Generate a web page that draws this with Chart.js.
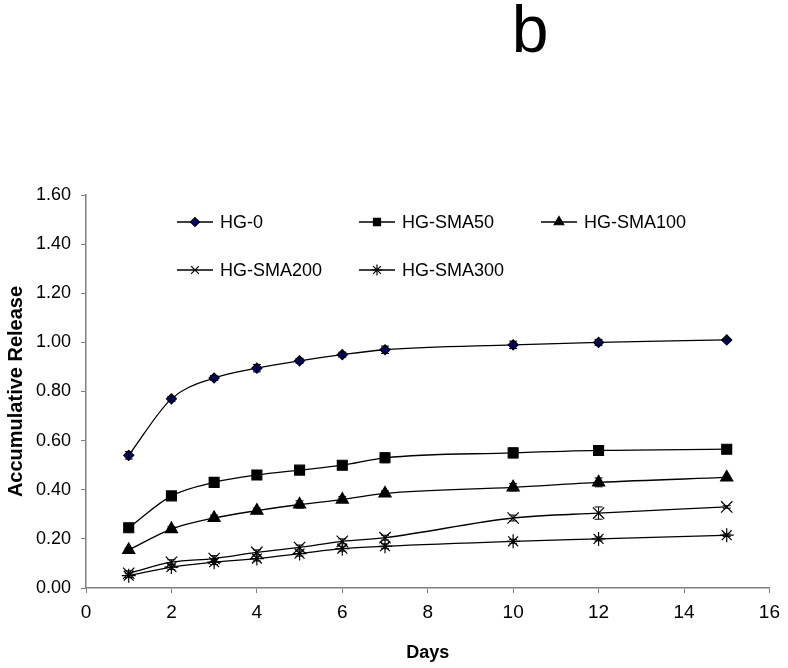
<!DOCTYPE html>
<html>
<head>
<meta charset="utf-8">
<script src="https://cdn.jsdelivr.net/npm/chart.js@4.4.1/dist/chart.umd.min.js"></script>
<style>
  html, body { margin: 0; padding: 0; background: #fff; }
  #wrap { width: 788px; height: 668px; }
</style>
</head>
<body>
<div id="wrap"><canvas id="myChart" width="788" height="668"></canvas></div>
<script>
// ---- data ----
const days = [1, 2, 3, 4, 5, 6, 7, 10, 12, 15];

const hg0      = [0.54, 0.77, 0.855, 0.895, 0.925, 0.95, 0.97, 0.99, 1.00, 1.01];
const hgSma50  = [0.245, 0.375, 0.43, 0.46, 0.48, 0.50, 0.53, 0.55, 0.56, 0.565];
const hgSma100 = [0.155, 0.24, 0.285, 0.315, 0.34, 0.36, 0.385, 0.41, 0.43, 0.45];
const hgSma200 = [0.06, 0.105, 0.12, 0.145, 0.165, 0.19, 0.205, 0.285, 0.305, 0.33];
const hgSma300 = [0.05, 0.085, 0.105, 0.12, 0.14, 0.16, 0.17, 0.19, 0.20, 0.215];

// error bars (+/-)
const err0   = [0.015, 0.01, 0.01, 0.015, 0.01, 0.01, 0.015, 0.015, 0.012, 0.005];
const err50  = [0.01, 0.008, 0.01, 0.008, 0.01, 0.01, 0.02, 0.02, 0.02, 0.005];
const err100 = [0.008, 0.01, 0.012, 0.01, 0.015, 0.012, 0.01, 0.015, 0.018, 0.005];
const err200 = [0.01, 0.01, 0.012, 0.01, 0.01, 0.01, 0.01, 0.012, 0.025, 0.005];
const err300 = [0.008, 0.01, 0.01, 0.01, 0.01, 0.01, 0.01, 0.008, 0.008, 0.005];

const xTicks = [0, 2, 4, 6, 8, 10, 12, 14, 16];
const yTicks = [0, 0.2, 0.4, 0.6, 0.8, 1.0, 1.2, 1.4, 1.6];

// ---- chart geometry ----
const AREA = { left: 86, right: 771, top: 195, bottom: 588 };
const FONT = '"Liberation Sans", Arial, sans-serif';

function pts(vals) {
    return days.map((d, i) => ({ x: d, y: vals[i] }));
}

function makeSet(label, vals, errs, style, fill, size, legendSize) {
    return {
        label: label,
        data: pts(vals),
        errs: errs,
        legendSize: legendSize,
        borderColor: '#000',
        borderWidth: 1.3,
        backgroundColor: fill,
        pointStyle: style,
        pointRadius: size,
        pointBorderColor: '#000',
        pointBackgroundColor: fill,
        pointBorderWidth: 1.2,
        tension: 0.35,
        cubicInterpolationMode: 'monotone'
    };
}

const datasets = [
    makeSet('HG-0', hg0, err0, 'rectRot', '#000080', 5, 4.5),
    makeSet('HG-SMA50', hgSma50, err50, 'rect', '#000', 7, 5),
    makeSet('HG-SMA100', hgSma100, err100, 'triangle', '#000', 7, 5.5),
    makeSet('HG-SMA200', hgSma200, err200, 'crossRot', '#000', 8, 5.5),
    makeSet('HG-SMA300', hgSma300, err300, 'star', '#000', 7, 5.5)
];

// legend slot positions (row, col)
const legendSlots = [[0, 0], [0, 1], [0, 2], [1, 0], [1, 1]];

// error bars drawn from scales
const errorBarPlugin = {
    id: 'errorBars',
    afterDatasetsDraw(chart) {
        const ctx = chart.ctx;
        const xs = chart.scales.x, ys = chart.scales.y;
        ctx.save();
        ctx.strokeStyle = '#000';
        ctx.lineWidth = 1;
        chart.data.datasets.forEach(ds => {
            ds.data.forEach((p, i) => {
                const e = ds.errs[i];
                const px = xs.getPixelForValue(p.x);
                const y1 = ys.getPixelForValue(p.y + e);
                const y2 = ys.getPixelForValue(p.y - e);
                ctx.beginPath();
                ctx.moveTo(px, y1); ctx.lineTo(px, y2);
                ctx.moveTo(px - 4, y1); ctx.lineTo(px + 4, y1);
                ctx.moveTo(px - 4, y2); ctx.lineTo(px + 4, y2);
                ctx.stroke();
            });
        });
        ctx.restore();
    }
};

// title "b" + in-plot legend
const decorPlugin = {
    id: 'decor',
    afterDraw(chart) {
        const ctx = chart.ctx;
        ctx.save();
        ctx.fillStyle = '#000';
        ctx.font = '66px ' + FONT;
        ctx.textAlign = 'center';
        ctx.textBaseline = 'alphabetic';
        ctx.fillText('b', 530, 52);

        ctx.font = '18px ' + FONT;
        ctx.textAlign = 'left';
        ctx.textBaseline = 'middle';
        chart.data.datasets.forEach((ds, i) => {
            const [row, col] = legendSlots[i];
            const x0 = 177 + col * 182;
            const y0 = 222 + row * 48;
            ctx.strokeStyle = '#000';
            ctx.lineWidth = 1.3;
            ctx.beginPath();
            ctx.moveTo(x0, y0); ctx.lineTo(x0 + 36, y0);
            ctx.stroke();
            ctx.lineWidth = 1.2;
            ctx.fillStyle = ds.pointBackgroundColor;
            Chart.helpers.drawPoint(ctx, {
                pointStyle: ds.pointStyle,
                radius: ds.legendSize,
                borderWidth: 1.2,
                rotation: 0
            }, x0 + 18, y0);
            ctx.fillStyle = '#000';
            ctx.fillText(ds.label, x0 + 43, y0 + 1);
        });
        ctx.restore();
    }
};

const ctx = document.getElementById('myChart').getContext('2d');
new Chart(ctx, {
    type: 'line',
    data: { datasets: datasets },
    plugins: [errorBarPlugin, decorPlugin],
    options: {
        responsive: false,
        animation: false,
        layout: { padding: { top: AREA.top, right: 788 - AREA.right, left: 0, bottom: 0 } },
        plugins: {
            legend: { display: false },
            tooltip: { enabled: false }
        },
        scales: {
            x: {
                type: 'linear',
                min: 0, max: 16,
                afterBuildTicks(scale) { scale.ticks = xTicks.map(v => ({ value: v })); },
                afterFit(scale) { scale.height = 668 - AREA.bottom; },
                grid: { display: true, drawOnChartArea: false, drawTicks: true, tickLength: 5, color: '#808080' },
                border: { color: '#808080', width: 1.5 },
                ticks: {
                    color: '#000',
                    padding: 8,
                    font: { family: FONT, size: 19 },
                    callback: v => String(v)
                },
                title: {
                    display: true,
                    text: 'Days',
                    color: '#000',
                    padding: { top: 16 },
                    font: { family: FONT, size: 18, weight: 'bold' }
                }
            },
            y: {
                type: 'linear',
                min: 0, max: 1.6,
                afterBuildTicks(scale) { scale.ticks = yTicks.map(v => ({ value: v })); },
                afterFit(scale) { scale.width = AREA.left; },
                grid: { display: true, drawOnChartArea: false, drawTicks: true, tickLength: 5, color: '#808080' },
                border: { color: '#808080', width: 1.5 },
                ticks: {
                    color: '#000',
                    padding: 10,
                    font: { family: FONT, size: 18 },
                    callback: v => v.toFixed(2)
                },
                title: {
                    display: true,
                    text: 'Accumulative Release',
                    color: '#000',
                    padding: { bottom: 0 },
                    font: { family: FONT, size: 20, weight: 'bold' }
                }
            }
        }
    }
});
</script>
</body>
</html>
